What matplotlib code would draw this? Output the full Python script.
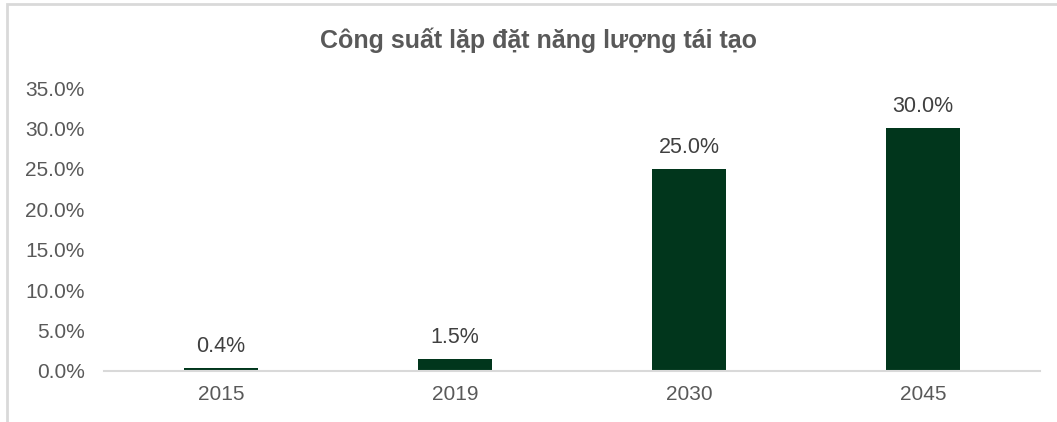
import matplotlib.pyplot as plt
from matplotlib.patches import Rectangle
from matplotlib.ticker import PercentFormatter

years = ['2015', '2019', '2030', '2045']
shares = [0.4, 1.5, 25.0, 30.0]
labels = ['0.4%', '1.5%', '25.0%', '30.0%']
title = 'Công suất lặp đặt năng lượng tái tạo'

plt.rcParams['font.family'] = ['Liberation Sans', 'DejaVu Sans']

fig = plt.figure(figsize=(10.57, 4.22), dpi=100)
ax = fig.add_axes([104 / 1057, 51 / 422, 936 / 1057, 283 / 422])

# light grey chart border (runs off the right and bottom edges)
fig.patches.append(Rectangle((7 / 1057, -0.1), 1.2, (418 / 422) + 0.1,
                             transform=fig.transFigure, fill=False,
                             edgecolor='#d9d9d9', linewidth=2))

x = range(len(years))
bars = ax.bar(x, shares, width=0.316, color='#01361c')
for b, lab in zip(bars, labels):
    ax.annotate(lab, (b.get_x() + b.get_width() / 2, b.get_height()),
                xytext=(0, 8), textcoords='offset points',
                ha='center', va='bottom', fontsize=15.5, color='#404040')

ax.set_xlim(-0.5, 3.5)
ax.set_ylim(0, 35)
ax.set_yticks(range(0, 36, 5))
ax.yaxis.set_major_formatter(PercentFormatter(decimals=1))
ax.set_xticks(list(x))
ax.set_xticklabels(years)
ax.tick_params(axis='y', length=0, pad=14, labelsize=15, labelcolor='#595959')
ax.tick_params(axis='x', length=0, pad=10, labelsize=15, labelcolor='#595959')

for s in ['top', 'right', 'left']:
    ax.spines[s].set_visible(False)
ax.spines['bottom'].set_color('#d9d9d9')
ax.spines['bottom'].set_linewidth(1.5)

fig.text(539 / 1057, 1 - 48 / 422, title, ha='center', va='baseline',
         fontsize=18, fontweight='bold', color='#595959')

fig.savefig('out.png', dpi=100)
